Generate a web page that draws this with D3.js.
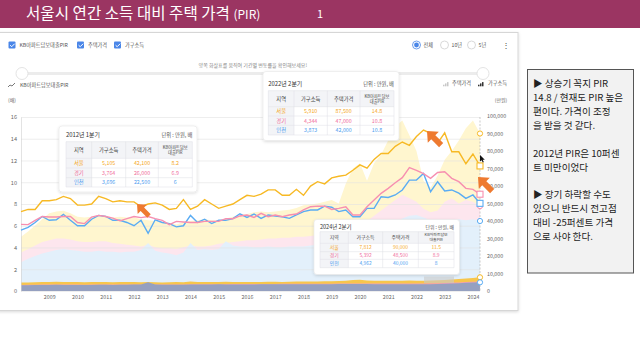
<!DOCTYPE html>
<html>
<head>
<meta charset="utf-8">
<script src="https://cdn.jsdelivr.net/npm/d3@7"></script>
<style>
html, body { margin: 0; padding: 0; background: #fff; }
svg { display: block; font-family: "Noto Sans CJK KR", "Noto Sans", sans-serif; }
</style>
</head>
<body>
<div id="content"></div>
<script>
// quarters 2008 Q1 .. 2024 Q2
var quarters = d3.range(66).map(function(i){ return 2008 + i / 4; });
var yearTicks = [2009,2010,2011,2012,2013,2014,2015,2016,2017,2018,2019,2020,2021,2022,2023,2024];
var pirTicks = [0,2,4,6,8,10,12,14,16];
var wonTicks = [0,10000,20000,30000,40000,50000,60000,70000,80000,90000,100000];

// KB PIR (배)
var pirSeoul = [7.3,7.5,7.5,8.3, 8.3,8.4,8.7,8.5, 7.9,7.9,8.0,8.7, 8.5,8.2,8.3,8.2,
  8.2,7.75,8.0,8.1, 7.9,7.5,7.6,8.4, 7.5,7.8,8.4,8.0, 7.6,7.8,8.0,8.4,
  8.8,8.7,8.9,9.3, 9.3,8.8,8.8,9.35, 8.8,9.65,10.05,9.85, 10.4,10.55,10.65,11.1,
  11.6,11.3,12.1,12.65, 12.65,13.3,13.7,13.4, 14.2,14.8,14.5,13.6, 14.55,12.8,12.8,11.7,
  12.6,11.5];
var pirGyeonggi = [6.13,6.1,6.5,6.85, 6.8,6.8,6.85,6.85, 6.3,6.2,6.8,6.95, 6.85,6.7,6.45,6.65,
  6.85,6.75,6.85,6.65, 6.5,6.1,6.4,6.35, 6.3,6.3,6.4,6.4, 6.4,6.65,6.65,6.9,
  6.99,6.77,7.14,6.83, 6.99,6.83,6.99,7.08, 7.45,7.75,7.8,7.8, 7.5,7.6,7.75,6.99,
  6.99,7.75,8.37,8.98, 9.44,9.96,10.42,11.34, 11.1,10.8,10.36,10.9, 10.97,10.36,10.05,9.44,
  9.35,8.9];
var pirIncheon = [5.6,5.85,6.3,6.85, 6.5,6.55,7.05,6.5, 6.0,6.0,6.6,6.95, 6.85,6.5,6.5,6.3,
  6.0,6.5,5.3,6.55, 6.3,6.2,5.9,6.0, 6.95,6.3,6.6,6.2, 6.5,6.5,6.65,7.1,
  6.77,7.08,6.68,6.99, 6.9,6.83,6.68,6.99, 7.3,7.45,7.45,7.8, 7.7,7.3,7.45,6.83,
  6.83,7.6,7.6,8.67, 8.6,8.83,9.29,10.2, 10.2,10.8,9.13,10.05, 9.2,9.29,9.0,8.52,
  8.83,8.06];

// 주택가격 (만원)
var priceSeoul = [31000,34000,37500,41000, 44500,45500,45800,44500, 42500,42000,42500,43500,
  43000,42000,42500,42000, 42100,41000,40500,40000, 39500,39000,38000,39500,
  40000,40500,41000,40500, 40500,41500,42500,43500, 44000,45000,45500,45000,
  45500,46000,46500,47500, 49000,49500,50000,51000, 52000,50000,61500,70000,
  73000,63000,73000,78000, 86000,94000,97500,89000, 80000,63000,59000,66000,
  75000,80000,86000,93000, 97500,90000];
var priceGyeonggi = [22000,24000,26000,28000, 29000,30000,30000,29500, 28500,28000,28000,28500,
  28500,27500,27000,26500, 26000,25500,26500,25000, 24500,24500,24000,25000,
  26000,25500,25500,26000, 27000,27500,28000,28500, 29000,29000,29500,30000,
  30000,30500,30500,31000, 31000,31500,32000,32500, 32500,33000,33500,34000,
  37000,40000,43000,46000, 49000,52000,55000,53000, 51000,47000,45000,46000,
  51000,53000,50000,52000, 51000,48500];
var priceIncheon = [16500,18500,20000,21500, 22500,23500,24000,23500, 23000,22500,22500,23000,
  22500,22500,22000,22500, 22500,23500,27500,23000, 22000,21500,20500,22000,
  27500,23500,24000,23500, 24000,28500,26000,25500, 25500,25000,25000,25500,
  25000,25000,25500,25500, 25500,26000,26500,27000, 27000,27500,28000,28500,
  29500,31000,32500,34500, 37000,39500,41500,43000, 43500,42000,40500,40000,
  39500,40500,41000,40500, 41000,40000];

// 가구소득 (만원)
var incomeSeoul = [4800,4900,5000,5100, 5200,5300,5200,5100, 5100,5000,5100,5200,
  5100,5000,5100,5100, 5105,5000,5200,5000, 4900,5000,5100,5000,
  5400,5200,5100,5100, 5200,5300,5200,5100, 5200,5100,5200,5300,
  5300,5200,5300,5400, 5500,5400,5500,5600, 5600,5700,5800,6300,
  6400,6000,5900,5800, 5900,5800,5900,6000, 5900,5910,6000,6100,
  6300,6600,6900,7200, 7500,7812];
var incomeGyeonggi = [3500,3550,3600,3650, 3700,3700,3650,3650, 3650,3600,3650,3700,
  3700,3650,3700,3700, 3764,3700,3750,3700, 3700,3700,3750,3750,
  3800,3800,3850,3850, 3900,3900,3950,3950, 4000,4000,4000,4050,
  4050,4100,4100,4100, 4150,4150,4200,4200, 4200,4250,4250,4300,
  4300,4250,4300,4300, 4300,4350,4300,4350, 4300,4344,4400,4500,
  4600,4800,4900,5100, 5250,5392];
var incomeIncheon = [3300,3350,3400,3450, 3500,3550,3500,3500, 3500,3450,3500,3550,
  3550,3500,3550,3600, 3696,3700,5000,3700, 3600,3550,3600,3600,
  3700,3650,3700,3700, 3900,3750,3700,3750, 3750,3750,3800,3800,
  3800,3800,3850,3850, 3850,3900,3900,3900, 3900,3950,3950,4000,
  4000,3950,3900,3900, 3900,3850,3850,3900, 3850,3873,3900,3950,
  4100,4300,4500,4700, 4850,4962];

// tooltip contents
var tipHeader = ["지역", "가구소득", "주택가격", "KB아파트담보\n대출PIR"];
var tipRegions = ["서울", "경기", "인천"];
var tip2012 = [["5,105","42,100","8.2"],["3,764","26,000","6.9"],["3,696","22,500","6"]];
var tip2022 = [["5,910","87,500","14.8"],["4,344","47,000","10.8"],["3,873","42,000","10.8"]];
var tip2024 = [["7,812","90,000","11.5"],["5,392","48,500","8.9"],["4,962","40,000","8"]];

var noteLines = ["▶ 상승기 꼭지 PIR", "14.8 / 현재도 PIR 높은", "편이다. 가격이 조정", "을 받을 것 같다.", "",
  "2012년 PIR은 10퍼센", "트 미만이었다", "", " ▶ 장기 하락할 수도", "있으니 반드시 전고점",
  "대비 -25퍼센트 가격", "으로 사야 한다."];

var lineColor = {seoul: "#f7b924", gyeonggi: "#f78fb0", incheon: "#5aacf3"};
var textColor = ["#f5a623", "#f06b9a", "#4a9bef"];

var svg = d3.select("#content").append("svg").attr("width", 640).attr("height", 360);
var defs = svg.append("defs");
var sh = defs.append("filter").attr("id", "shadow").attr("x", "-10%").attr("y", "-10%").attr("width", "120%").attr("height", "130%");
sh.append("feDropShadow").attr("dx", 0).attr("dy", 1).attr("stdDeviation", 1.5).attr("flood-color", "#000").attr("flood-opacity", 0.15);

svg.append("rect").attr("width", 640).attr("height", 360).attr("fill", "#fff");

// title bar
svg.append("rect").attr("x", 0).attr("y", 0).attr("width", 640).attr("height", 28).attr("fill", "#9b3562");
var title = svg.append("text").attr("x", 26).attr("y", 19).attr("fill", "#fff").attr("font-size", 15.6);
title.append("tspan").text("서울시 연간 소득 대비 주택 가격 ");
title.append("tspan").attr("font-size", 12).text("(PIR)");
svg.append("text").attr("x", 320).attr("y", 18).attr("fill", "#fff").attr("font-size", 11).attr("text-anchor", "middle").text("1");

// chart panel
svg.append("rect").attr("x", -2).attr("y", 32.5).attr("width", 520).attr("height", 278)
  .attr("fill", "#fff").attr("stroke", "#d6d6d6").attr("filter", "url(#shadow)");

// check boxes
var checks = [{x: 8.5, label: "KB아파트담보대출PIR"}, {x: 77, label: "주택가격"}, {x: 114, label: "가구소득"}];
checks.forEach(function(c){
  svg.append("rect").attr("x", c.x).attr("y", 41.5).attr("width", 7).attr("height", 7).attr("rx", 1).attr("fill", "#4a86e8");
  svg.append("path").attr("d", "M" + (c.x + 1.6) + ",45.2 l1.6,1.5 l3,-3").attr("fill", "none").attr("stroke", "#fff").attr("stroke-width", 1);
  svg.append("text").attr("x", c.x + 11).attr("y", 45).attr("dy", "0.35em").attr("font-size", 5.2).attr("fill", "#555").text(c.label);
});

// radio buttons
var radios = [{x: 416.5, label: "전체", on: true}, {x: 444.5, label: "10년"}, {x: 471.5, label: "5년"}];
radios.forEach(function(r){
  svg.append("circle").attr("cx", r.x).attr("cy", 45).attr("r", 4).attr("fill", "#fff").attr("stroke", r.on ? "#4a86e8" : "#cfcfcf").attr("stroke-width", 0.8);
  if (r.on) svg.append("circle").attr("cx", r.x).attr("cy", 45).attr("r", 2.4).attr("fill", "#4a86e8");
  svg.append("text").attr("x", r.x + 7).attr("y", 45).attr("dy", "0.35em").attr("font-size", 5.2).attr("fill", "#555").text(r.label);
});
svg.append("text").attr("x", 506).attr("y", 45).attr("dy", "0.35em").attr("font-size", 8).attr("fill", "#444").attr("text-anchor", "middle").text("⋮");

// range slider
svg.append("text").attr("x", 307).attr("y", 65).attr("dy", "0.35em").attr("text-anchor", "end").attr("font-size", 5).attr("fill", "#888")
  .text("양쪽 화살표를 움직여 기간별 변동률을 확인해보세요!");
svg.append("rect").attr("x", 22).attr("y", 72).attr("width", 461).attr("height", 3).attr("rx", 1.5).attr("fill", "#ececec");
[22, 483].forEach(function(cx){
  svg.append("circle").attr("cx", cx).attr("cy", 73.5).attr("r", 6).attr("fill", "#fff").attr("stroke", "#dcdcdc").attr("stroke-width", 0.8);
});

// legends
svg.append("path").attr("d", "M8,87 l2,-2 l2,1 l3,-3").attr("fill", "none").attr("stroke", "#555").attr("stroke-width", 0.8);
svg.append("text").attr("x", 20).attr("y", 85).attr("dy", "0.35em").attr("font-size", 5.2).attr("fill", "#555").text("KB아파트담보대출PIR");
function barIcon(x, color){
  [0, 2, 4].forEach(function(o, i){
    svg.append("rect").attr("x", x + o).attr("y", 86 - (i + 1) * 1.3).attr("width", 1.5).attr("height", (i + 1) * 1.3 + 0.3).attr("fill", color);
  });
}
barIcon(443, "#c8c8c8");
svg.append("text").attr("x", 452).attr("y", 83.5).attr("dy", "0.35em").attr("font-size", 5.2).attr("fill", "#555").text("주택가격");
barIcon(478, "#333");
svg.append("text").attr("x", 488).attr("y", 83.5).attr("dy", "0.35em").attr("font-size", 5.2).attr("fill", "#555").text("가구소득");
svg.append("text").attr("x", 12).attr("y", 100).attr("dy", "0.35em").attr("text-anchor", "middle").attr("font-size", 5).attr("fill", "#666").text("(배)");
svg.append("text").attr("x", 501).attr("y", 100.5).attr("dy", "0.35em").attr("text-anchor", "middle").attr("font-size", 5).attr("fill", "#666").text("(만원)");

// scales
var x = d3.scaleLinear().domain([2008, 2024.25]).range([21, 480]);
var yL = d3.scaleLinear().domain([0, 16]).range([291, 117]);
var yR = d3.scaleLinear().domain([0, 100000]).range([291, 116]);

function toPts(vals){ return vals.map(function(v, i){ return {t: quarters[i], v: v}; }); }

// areas (right axis)
var area = d3.area().x(function(d){ return x(d.t); }).y0(yR(0)).y1(function(d){ return yR(d.v); });
var chart = svg.append("g");
chart.append("path").datum(toPts(priceSeoul)).attr("d", area).attr("fill", "#fff6cf");
chart.append("path").datum(toPts(priceGyeonggi)).attr("d", area).attr("fill", "#fde6ee");
chart.append("path").datum(toPts(priceIncheon)).attr("d", area).attr("fill", "#e3f0fb");

// grid
var grid = chart.append("g").attr("transform", "translate(21,0)")
  .call(d3.axisLeft(yL).tickValues(pirTicks).tickSize(-459).tickFormat(""));
grid.select(".domain").remove();
grid.selectAll("line").attr("stroke", "#e2e2e2").attr("stroke-width", 0.6);

chart.append("path").datum(toPts(incomeSeoul)).attr("d", area).attr("fill", "#f7c64c");
chart.append("path").datum(toPts(incomeGyeonggi)).attr("d", area).attr("fill", "#f2a0b6");
chart.append("path").datum(toPts(incomeIncheon)).attr("d", area).attr("fill", "#95a0c0");

// axes
var axL = chart.append("g").attr("transform", "translate(21,0)")
  .call(d3.axisLeft(yL).tickValues(pirTicks).tickSize(0).tickPadding(4));
axL.select(".domain").attr("stroke", "#d0d0d0").attr("stroke-width", 0.6);
axL.selectAll("text").attr("font-size", 5.6).attr("fill", "#666").attr("font-family", "Noto Sans CJK KR");

var axR = chart.append("g").attr("transform", "translate(480,0)")
  .call(d3.axisRight(yR).tickValues(wonTicks).tickSize(0).tickPadding(7).tickFormat(d3.format(",")));
axR.select(".domain").remove();
axR.selectAll("text").attr("font-size", 5.3).attr("fill", "#666").attr("font-family", "Noto Sans CJK KR");

var axB = chart.append("g").attr("transform", "translate(0,291)")
  .call(d3.axisBottom(x).tickValues(yearTicks).tickSize(0).tickPadding(4).tickFormat(d3.format("d")));
axB.select(".domain").remove();
axB.selectAll("text").attr("font-size", 5.3).attr("fill", "#666").attr("font-family", "Noto Sans CJK KR");

// hover line
chart.append("line").attr("x1", x(2024.25)).attr("x2", x(2024.25)).attr("y1", 117).attr("y2", 291)
  .attr("stroke", "#b5b5b5").attr("stroke-width", 0.7).attr("stroke-dasharray", "2,1.5");

// PIR lines
var line = d3.line().x(function(d){ return x(d.t); }).y(function(d){ return yL(d.v); });
[[pirIncheon, lineColor.incheon], [pirGyeonggi, lineColor.gyeonggi], [pirSeoul, lineColor.seoul]].forEach(function(s){
  chart.append("path").datum(toPts(s[0])).attr("d", line).attr("fill", "none").attr("stroke", s[1]).attr("stroke-width", 1.4);
});

// end markers
var last = quarters.length - 1;
[[priceSeoul, lineColor.seoul], [priceGyeonggi, lineColor.gyeonggi], [priceIncheon, lineColor.incheon],
 [incomeSeoul, lineColor.seoul], [incomeIncheon, lineColor.incheon]].forEach(function(s){
  chart.append("circle").attr("cx", x(quarters[last])).attr("cy", yR(s[0][last])).attr("r", 2.6)
    .attr("fill", "#fff").attr("stroke", s[1]).attr("stroke-width", 1);
});
[[pirSeoul, lineColor.seoul], [pirGyeonggi, lineColor.gyeonggi], [pirIncheon, lineColor.incheon]].forEach(function(s){
  chart.append("rect").attr("x", x(quarters[last]) - 3).attr("y", yL(s[0][last]) - 3).attr("width", 6).attr("height", 6)
    .attr("fill", "#fff").attr("stroke", s[1]).attr("stroke-width", 1.1);
});

// tooltips
function drawTip(cfg, titleText, rows){
  var g = svg.append("g");
  var c = cfg.cols, r = cfg.rows, fs = cfg.fs;
  g.append("rect").attr("x", cfg.x).attr("y", cfg.y).attr("width", cfg.w).attr("height", cfg.h).attr("rx", 3)
    .attr("fill", "#fff").attr("stroke", "#e6e6e6").attr("stroke-width", 0.6).attr("filter", "url(#shadow)");
  g.append("text").attr("x", c[0]).attr("y", cfg.titleY).attr("dy", "0.35em").attr("font-size", fs + 0.6).attr("fill", "#333").text(titleText);
  g.append("text").attr("x", c[4]).attr("y", cfg.titleY).attr("dy", "0.35em").attr("text-anchor", "end").attr("font-size", fs).attr("fill", "#555").text("단위 : 만원, 배");
  g.append("rect").attr("x", c[0]).attr("y", r[0]).attr("width", c[4] - c[0]).attr("height", r[1] - r[0]).attr("fill", "#f3f4f7");
  g.append("rect").attr("x", c[0]).attr("y", r[1]).attr("width", c[1] - c[0]).attr("height", r[4] - r[1]).attr("fill", "#f3f4f7");
  c.forEach(function(cx){
    g.append("line").attr("x1", cx).attr("x2", cx).attr("y1", r[0]).attr("y2", r[4]).attr("stroke", "#dcdfe5").attr("stroke-width", 0.5);
  });
  r.forEach(function(ry){
    g.append("line").attr("x1", c[0]).attr("x2", c[4]).attr("y1", ry).attr("y2", ry).attr("stroke", "#dcdfe5").attr("stroke-width", 0.5);
  });
  tipHeader.forEach(function(h, i){
    var parts = h.split("\n");
    var cx = (c[i] + c[i + 1]) / 2, cy = (r[0] + r[1]) / 2;
    var hs = parts.length > 1 ? fs * 0.8 : fs;
    parts.forEach(function(p, k){
      g.append("text").attr("x", cx).attr("y", cy + (k - (parts.length - 1) / 2) * hs * 1.25).attr("dy", "0.35em")
        .attr("text-anchor", "middle").attr("font-size", hs).attr("fill", "#444").text(p);
    });
  });
  rows.forEach(function(row, j){
    var cy = (r[j + 1] + r[j + 2]) / 2;
    [tipRegions[j]].concat(row).forEach(function(val, i){
      g.append("text").attr("x", (c[i] + c[i + 1]) / 2).attr("y", cy).attr("dy", "0.35em")
        .attr("text-anchor", "middle").attr("font-size", fs).attr("fill", textColor[j]).text(val);
    });
  });
}
drawTip({x: 59, y: 126, w: 138, h: 66, titleY: 135, fs: 5.3,
  cols: [66, 91.7, 125.7, 158.3, 192.3], rows: [141.7, 158.3, 168, 177.7, 187]}, "2012년 1분기", tip2012);
drawTip({x: 263, y: 71.5, w: 136, h: 69, titleY: 84, fs: 5.3,
  cols: [268.3, 294, 327.3, 360, 394], rows: [90.7, 106.7, 116, 125.3, 135]}, "2022년 2분기", tip2022);
drawTip({x: 314, y: 219.5, w: 145.5, h: 55, titleY: 227, fs: 4.9,
  cols: [320, 348.3, 382.7, 418.3, 454], rows: [231.7, 243.3, 251.7, 259.3, 267.7]}, "2024년 2분기", tip2024);

// leftover hover box under the last tooltip
svg.append("rect").attr("x", 424).attr("y", 276.5).attr("width", 30).attr("height", 6.5).attr("fill", "#c9c9c9").attr("opacity", 0.6);

// cursor arrows
function drawArrow(tx, ty, len){
  var s = len / 18;
  var pts = [[0,0],[7,8],[2.6,8],[2.6,18],[-2.6,18],[-2.6,8],[-7,8]];
  svg.append("polygon").attr("points", pts.map(function(p){ return (p[0] * s) + "," + (p[1] * s); }).join(" "))
    .attr("transform", "translate(" + tx + "," + ty + ") rotate(-45)").attr("fill", "#ee7a30");
}
drawArrow(137, 204, 17);
drawArrow(427, 131, 20);
drawArrow(478, 177, 20);
svg.append("polygon").attr("points", "0,0 0,6.5 1.6,5.2 2.8,7.6 3.8,7.1 2.7,4.8 4.8,4.8")
  .attr("transform", "translate(480,155)").attr("fill", "#111");

// note box
svg.append("rect").attr("x", 527.5).attr("y", 69.5).attr("width", 106).attr("height", 203.5)
  .attr("fill", "#f2f2f2").attr("stroke", "#555").attr("stroke-width", 1);
noteLines.forEach(function(t, i){
  svg.append("text").attr("x", 533).attr("y", 84 + i * 13.88).attr("dy", "0.35em")
    .attr("font-size", 9.6).attr("fill", "#222").text(t);
});
</script>
</body>
</html>
